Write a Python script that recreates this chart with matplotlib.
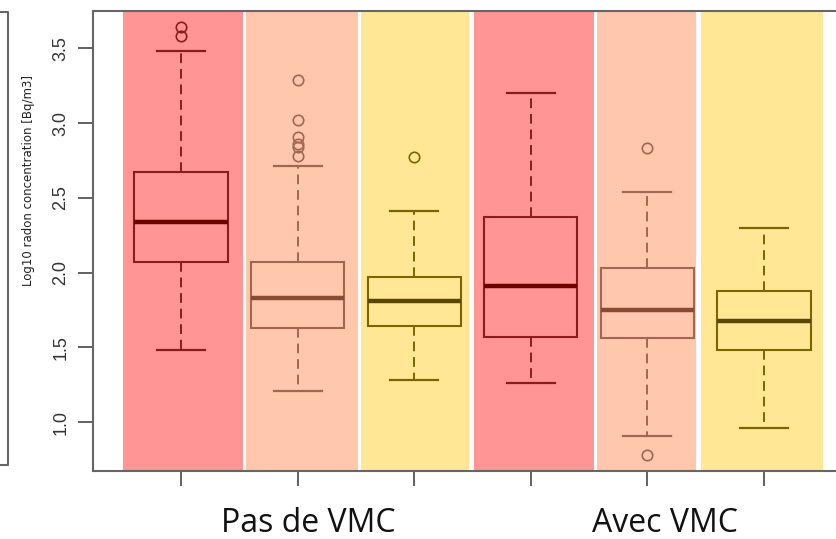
import matplotlib
matplotlib.use("Agg")
import matplotlib.pyplot as plt
from matplotlib.lines import Line2D

# boxplot statistics (log10 Bq/m3)
positions = [1, 2, 3, 4, 5, 6]
q1 = [2.07, 1.63, 1.64, 1.57, 1.56, 1.48]
medians = [2.34, 1.83, 1.81, 1.91, 1.75, 1.68]
q3 = [2.67, 2.07, 1.97, 2.37, 2.03, 1.88]
whisker_low = [1.48, 1.21, 1.28, 1.26, 0.91, 0.96]
whisker_high = [3.48, 2.71, 2.41, 3.20, 2.54, 2.30]
outliers = [
    [3.64, 3.58],
    [3.29, 3.02, 2.91, 2.86, 2.84, 2.78],
    [2.77],
    [],
    [2.83, 0.78],
    [],
]
group_labels = ["Pas de VMC", "Avec VMC"]
group_centers = [2.09, 5.15]

# background bands behind each box (data units)
band_edges = [(0.50, 1.53), (1.56, 2.52), (2.54, 3.47),
              (3.51, 4.54), (4.57, 5.42), (5.46, 6.51)]

fill_colors = ["#ff9595", "#ffc7ab", "#ffe796"] * 2
edge_colors = ["#8c1c1c", "#a3664f", "#7a6600"] * 2
median_colors = ["#6e0000", "#8a4a33", "#5a4800"] * 2

fig = plt.figure(figsize=(8.36, 5.39), dpi=100)
W, H = 836, 539
x_left, x_right = 93, 852
y_top, y_bot = 11, 471
ax = fig.add_axes([x_left / W, 1 - y_bot / H, (x_right - x_left) / W, (y_bot - y_top) / H])

for (a, b), c in zip(band_edges, fill_colors):
    ax.axvspan(a, b, color=c, zorder=0, lw=0)

stats = []
for i in range(len(positions)):
    stats.append(dict(med=medians[i], q1=q1[i], q3=q3[i],
                      whislo=whisker_low[i], whishi=whisker_high[i],
                      fliers=outliers[i]))

for i, st in enumerate(stats):
    ec = edge_colors[i]
    ax.bxp([st], positions=[positions[i]], widths=0.8, patch_artist=True,
           boxprops=dict(facecolor=fill_colors[i], edgecolor=ec, lw=1.5),
           medianprops=dict(color=median_colors[i], lw=3.2, solid_capstyle="butt"),
           whiskerprops=dict(color=ec, lw=1.4, linestyle=(0, (5, 3))),
           capprops=dict(color=ec, lw=1.6),
           capwidths=0.41,
           flierprops=dict(marker="o", markerfacecolor="none", markeredgecolor=ec,
                           markersize=7.5, markeredgewidth=1.2),
           manage_ticks=False, zorder=2)

ax.set_xlim(0.244, 6.756)
ax.set_ylim(0.674, 3.749)
ax.set_xticks(positions)
ax.set_xticklabels([])
ax.set_yticks([1.0, 1.5, 2.0, 2.5, 3.0, 3.5])
ax.set_yticklabels(["1.0", "1.5", "2.0", "2.5", "3.0", "3.5"], rotation=90,
                   va="center", fontsize=13, family="Liberation Sans", color="#333333")
ax.tick_params(axis="both", length=11, width=1.3, color="#555555", direction="out", pad=6)

for s in ax.spines.values():
    s.set_color("#666666")
    s.set_linewidth(1.5)
    s.set_zorder(3)

fig.text(29 / W, 1 - 181 / H, "Log10 radon concentration [Bq/m3]", rotation=90,
         ha="center", va="center", fontsize=8.5, color="#222222")

for lab, xc in zip(group_labels, group_centers):
    ax.text(xc, -0.133, lab, transform=ax.get_xaxis_transform(), ha="center",
            va="baseline", fontsize=23, family="Open Sans", color="#111111")

# cut edge of a neighbouring panel on the far left
fig.add_artist(Line2D([0, 7.5 / W, 7.5 / W, 0],
                      [1 - 12 / H, 1 - 12 / H, 1 - 465 / H, 1 - 465 / H],
                      transform=fig.transFigure, color="#666666", lw=1.5))

fig.savefig("out.png", dpi=100)
